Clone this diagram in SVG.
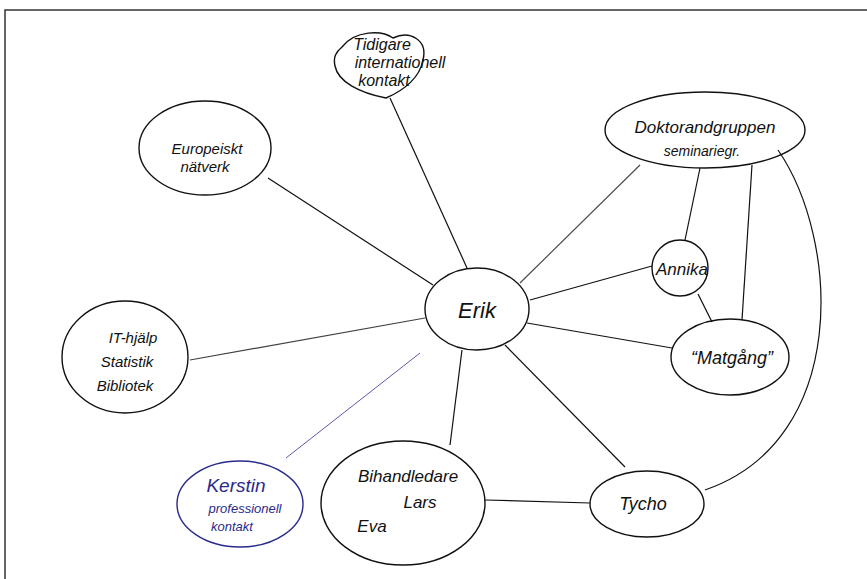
<svg xmlns="http://www.w3.org/2000/svg" width="867" height="579" viewBox="0 0 867 579">
<style>
.n{fill:none;stroke:#111;stroke-width:1.4}
.b{fill:none;stroke:#2a2a8c;stroke-width:1.4}
.e{fill:none;stroke:#111;stroke-width:1.2}
.t{font-family:"Liberation Sans",Arial,sans-serif;font-style:italic;fill:#111;text-anchor:middle}
.tb{font-family:"Liberation Sans",Arial,sans-serif;font-style:italic;fill:#2a2a8c;text-anchor:middle}
</style>
<rect width="867" height="579" fill="#fff"/>
<path d="M5 579 V10 H867" fill="none" stroke="#333" stroke-width="1.5"/>
<g id="connectors">
<line class="e" x1="467" y1="268" x2="390" y2="98"/>
<line class="e" x1="433" y1="285" x2="268" y2="178"/>
<line class="e" x1="425" y1="318" x2="190" y2="360" stroke-opacity="0.8"/>
<line x1="420" y1="353" x2="286" y2="458" stroke="#5a5ab0" stroke-width="1"/>
<line class="e" x1="462" y1="350" x2="450" y2="445"/>
<line class="e" x1="505" y1="345" x2="625" y2="467"/>
<line class="e" x1="527" y1="323" x2="672" y2="348"/>
<line class="e" x1="530" y1="300" x2="652" y2="266"/>
<line class="e" x1="520" y1="283" x2="640" y2="165" stroke-opacity="0.75"/>
<line class="e" x1="700" y1="168" x2="685" y2="240"/>
<line class="e" x1="752" y1="165" x2="742" y2="320"/>
<line class="e" x1="698" y1="294" x2="712" y2="322"/>
<path class="e" d="M778 150 C840 240 850 440 705 490"/>
<line class="e" x1="485" y1="500" x2="590" y2="503"/>
</g>
<g id="erik">
<ellipse class="n" cx="477" cy="309" rx="52" ry="41"/>
<text class="t" x="477" y="318" font-size="22">Erik</text>
</g>
<g id="tidigare">
<path class="n" d="M342 47 C355 30 382 30 393 38 C410 30 428 40 423 60 C420 77 405 90 386 98 C360 93 338 82 335 66 C333 57 336 52 342 47 Z"/>
<text class="t" x="382" y="50" font-size="16">Tidigare</text>
<text class="t" x="400" y="68" font-size="16">internationell</text>
<text class="t" x="384" y="86" font-size="16">kontakt</text>
</g>
<g id="europeiskt">
<ellipse class="n" cx="205" cy="148" rx="66" ry="47"/>
<text class="t" x="207" y="154" font-size="15">Europeiskt</text>
<text class="t" x="205" y="172" font-size="15">nätverk</text>
</g>
<g id="it">
<ellipse class="n" cx="125" cy="357" rx="63" ry="56"/>
<text class="t" x="133" y="343" font-size="15">IT-hjälp</text>
<text class="t" x="127" y="367" font-size="15">Statistik</text>
<text class="t" x="125" y="391" font-size="15">Bibliotek</text>
</g>
<g id="kerstin">
<ellipse class="b" cx="240" cy="504" rx="63" ry="43"/>
<text class="tb" x="236" y="492" font-size="19">Kerstin</text>
<text class="tb" x="245" y="513" font-size="13">professionell</text>
<text class="tb" x="232" y="531" font-size="13">kontakt</text>
</g>
<g id="bihandledare">
<ellipse class="n" cx="403" cy="503" rx="82" ry="62"/>
<text class="t" x="408" y="482" font-size="17">Bihandledare</text>
<text class="t" x="420" y="508" font-size="17">Lars</text>
<text class="t" x="372" y="532" font-size="17">Eva</text>
</g>
<g id="tycho">
<ellipse class="n" cx="647" cy="504" rx="57" ry="33"/>
<text class="t" x="643" y="510" font-size="18">Tycho</text>
</g>
<g id="matgang">
<ellipse class="n" cx="730" cy="357" rx="59" ry="38"/>
<text class="t" x="732" y="364" font-size="18">“Matgång”</text>
</g>
<g id="annika">
<circle class="n" cx="680" cy="268" r="28"/>
<text class="t" x="682" y="275" font-size="17">Annika</text>
</g>
<g id="doktorandgruppen">
<ellipse class="n" cx="705" cy="130" rx="100" ry="38"/>
<text class="t" x="705" y="133" font-size="17">Doktorandgruppen</text>
<text class="t" x="702" y="156" font-size="14">seminariegr.</text>
</g>
</svg>
